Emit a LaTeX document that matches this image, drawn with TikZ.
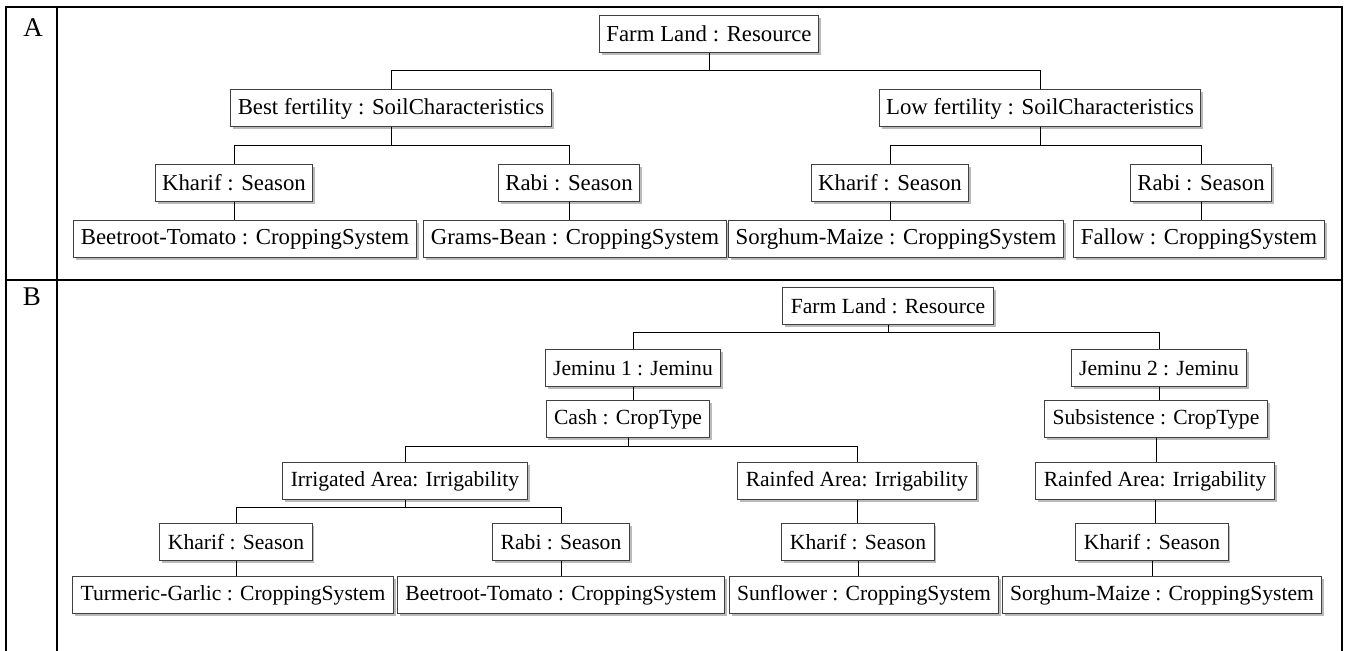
\documentclass[tikz,border=0pt]{standalone}
\usepackage{fontspec}
\setmainfont{Liberation Serif}
\usetikzlibrary{shadows}

\tikzset{
  cls/.style={draw=black!75, line width=0.5pt, fill=white, inner xsep=4pt, inner ysep=0pt,
    minimum height=18.5pt,
    drop shadow={shadow xshift=1.2pt, shadow yshift=-1.2pt, fill=black!45, opacity=0.6}},
  clsa/.style={cls, inner xsep=3.5pt, font=\fontsize{11.4}{13}\selectfont},
  clsb/.style={cls, font=\fontsize{10.8}{13}\selectfont},
  panel/.style={font=\fontsize{13.5}{16}\selectfont},
}

\begin{document}
\begin{tikzpicture}[x=0.5pt, y=-0.5pt, line width=0.5pt]
  \useasboundingbox (0,0) rectangle (1349,651);

  % frame
  \draw[line width=1.2pt] (6,651) -- (6,7) -- (1342,7) -- (1342,651);
  \draw[line width=1.2pt] (57,7) -- (57,651);
  \draw[line width=1.2pt] (6,280) -- (1342,280);
  \node[panel] (labA) at (33,28) {A};
  \node[panel] (labB) at (32,297) {B};

  % A
  \node[clsa] (fla)   at (709,34)    {Farm Land : Resource};
  \node[clsa] (best)  at (391,108.5) {Best fertility : SoilCharacteristics};
  \node[clsa] (low)   at (1040,108.5) {Low fertility : SoilCharacteristics};
  \node[clsa] (kha1)  at (234,183)   {Kharif : Season};
  \node[clsa] (rab1)  at (569,183)   {Rabi : Season};
  \node[clsa] (kha2)  at (890,183)   {Kharif : Season};
  \node[clsa] (rab2)  at (1201,183)  {Rabi : Season};
  \node[clsa] (beet1) at (245,239)   {Beetroot-Tomato : CroppingSystem};
  \node[clsa] (gram)  at (575,239)   {Grams-Bean : CroppingSystem};
  \node[clsa] (sorg1) at (896,239)   {Sorghum-Maize : CroppingSystem};
  \node[clsa] (fall)  at (1199,239)  {Fallow : CroppingSystem};

  \draw (fla.south) -- +(0,18) -| (best.north);
  \draw (fla.south) -- +(0,18) -| (low.north);
  \draw (best.south) -- +(0,18) -| (kha1.north);
  \draw (best.south) -- +(0,18) -| (rab1.north);
  \draw (low.south) -- +(0,18) -| (kha2.north);
  \draw (low.south) -- +(0,18) -| (rab2.north);
  \draw (kha1.south) -- (kha1.south |- beet1.north);
  \draw (rab1.south) -- (rab1.south |- gram.north);
  \draw (kha2.south) -- (kha2.south |- sorg1.north);
  \draw (rab2.south) -- (rab2.south |- fall.north);

  % B
  \node[clsb] (flb)   at (888,306.5)  {Farm Land : Resource};
  \node[clsb] (jem1)  at (633,368.5)  {Jeminu 1 : Jeminu};
  \node[clsb] (jem2)  at (1159,368.5) {Jeminu 2 : Jeminu};
  \node[clsb] (cash)  at (628,419.5)  {Cash : CropType};
  \node[clsb] (subs)  at (1156,419.5) {Subsistence : CropType};
  \node[clsb] (irr)   at (405,481.5)  {Irrigated Area: Irrigability};
  \node[clsb] (rain1) at (857,481.5)  {Rainfed Area: Irrigability};
  \node[clsb] (rain2) at (1155,481.5) {Rainfed Area: Irrigability};
  \node[clsb] (khb1)  at (236,542.5)  {Kharif : Season};
  \node[clsb] (rabb)  at (561,542.5)  {Rabi : Season};
  \node[clsb] (khb2)  at (858,542.5)  {Kharif : Season};
  \node[clsb] (khb3)  at (1152,542.5) {Kharif : Season};
  \node[clsb] (turm)  at (233,595.5)  {Turmeric-Garlic : CroppingSystem};
  \node[clsb] (beetb) at (561,595.5)  {Beetroot-Tomato : CroppingSystem};
  \node[clsb] (sunf)  at (864,595.5)  {Sunflower : CroppingSystem};
  \node[clsb] (sorgb) at (1162,595.5) {Sorghum-Maize : CroppingSystem};

  \draw (flb.south) -- +(0,7) -| (jem1.north);
  \draw (flb.south) -- +(0,7) -| (jem2.north);
  \draw (jem1.south) -- (jem1.south |- cash.north);
  \draw (jem2.south) -- (jem2.south |- subs.north);
  \draw (cash.south) -- +(0,8) -| (irr.north);
  \draw (cash.south) -- +(0,8) -| (rain1.north);
  \draw (subs.south) -- (subs.south |- rain2.north);
  \draw (irr.south) -- +(0,7) -| (khb1.north);
  \draw (irr.south) -- +(0,7) -| (rabb.north);
  \draw (rain1.south) -- (rain1.south |- khb2.north);
  \draw (rain2.south) -- (rain2.south |- khb3.north);
  \draw (khb1.south) -- (khb1.south |- turm.north);
  \draw (rabb.south) -- (rabb.south |- beetb.north);
  \draw (khb2.south) -- (khb2.south |- sunf.north);
  \draw (khb3.south) -- (khb3.south |- sorgb.north);
\end{tikzpicture}
\end{document}
